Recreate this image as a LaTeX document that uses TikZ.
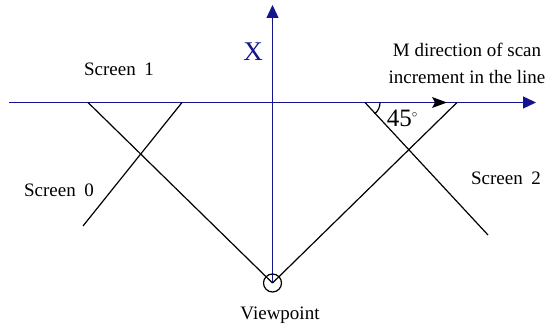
\documentclass[tikz,border=0pt]{standalone}
\usepackage{fontspec}
\setmainfont{Liberation Serif}
\usetikzlibrary{arrows.meta}
\definecolor{navy}{RGB}{20,20,140}
\begin{document}
\begin{tikzpicture}[x=1pt,y=1pt,
  lbl/.style={inner sep=0pt,font=\fontsize{19}{22}\selectfont},
  blk/.style={draw=black,line width=1.2pt},
  axis/.style={draw=navy,line width=1.3pt,-{Triangle[length=13pt,width=12pt]}}]
\useasboundingbox (0,0) rectangle (548,324);
% coordinates
\coordinate (hl) at (9,221.5);
\coordinate (hr) at (536,221.5);
\coordinate (vp) at (272.5,41);
\coordinate (vt) at (272.5,319);
\coordinate (sl) at (88,221.5);
\coordinate (sr) at (457,221.5);
\coordinate (s0a) at (182,221.5);
\coordinate (s0b) at (83,98);
\coordinate (s2a) at (365,221.5);
\coordinate (s2b) at (488,89);
\coordinate (mid) at (447,221.5);
% axes
\draw[axis] (hl) -- (hr);
\draw[axis] (vp) -- (vt);
% sight lines and screens
\draw[blk] (vp) -- (sl);
\draw[blk] (vp) -- (sr);
\draw[blk] (s0a) -- (s0b);
\draw[blk] (s2a) -- (s2b);
% middle arrowhead
\fill[black] (mid) -- ++(-15,5.5) -- ++(3,-5.5) -- ++(-3,-5.5) -- cycle;
% angle arc
\draw[blk] ([shift={(0:15)}]s2a) arc[start angle=0,end angle=-50,radius=15];
% viewpoint circle
\node[draw=black,line width=1.2pt,circle,minimum size=18pt,inner sep=0pt] (vc) at (vp) {};
% labels
\node[lbl] (t45) at (402,206) {\fontsize{25}{28}\selectfont 45\raisebox{0.75ex}{\fontsize{11}{12}\selectfont$\circ$}};
\node[lbl,text=navy] (tx) at (253,272) {\fontsize{27}{30}\selectfont X};
\node[lbl] (ts1) at (119,255) {Screen\hspace{0.45em}1};
\node[lbl] (ts0) at (59,134) {Screen\hspace{0.45em}0};
\node[lbl] (ts2) at (506,146) {Screen\hspace{0.45em}2};
\node[lbl,anchor=base] (tvp) at (280,5) {Viewpoint};
\node[lbl,anchor=base] (tm1) at (467,267) {M direction of scan};
\node[lbl,anchor=base] (tm2) at (467,240) {increment in the line};
\end{tikzpicture}
\end{document}
